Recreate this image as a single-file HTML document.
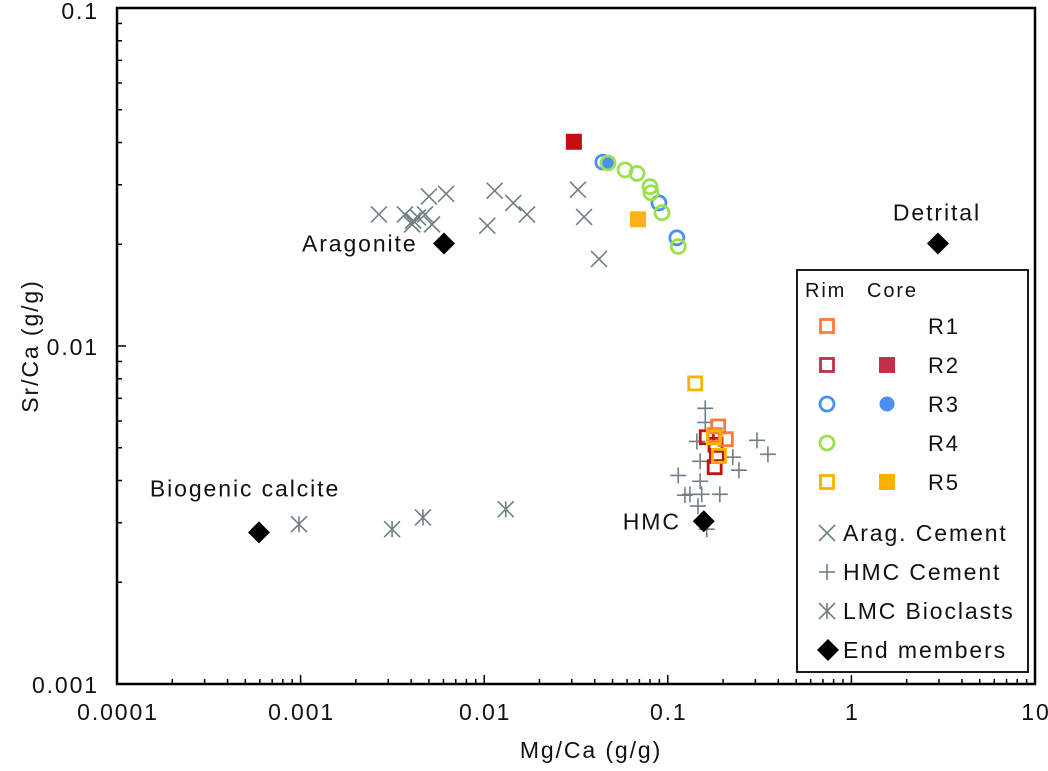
<!DOCTYPE html>
<html><head><meta charset="utf-8">
<style>
html,body{margin:0;padding:0;background:#fff;}
svg{display:block;font-family:"Liberation Sans",Arial,sans-serif;}
text{letter-spacing:1.9px;}
</style></head>
<body>
<svg id="chart" width="1048" height="771" viewBox="0 0 1048 771" xmlns="http://www.w3.org/2000/svg">
<g id="grid"></g>
<g id="marks"></g>
<g id="labels"></g>
</svg>
<script>
// ---- data ----
const xTickValues = [0.0001, 0.001, 0.01, 0.1, 1, 10];
const xTickLabels = ["0.0001", "0.001", "0.01", "0.1", "1", "10"];
const yTickValues = [0.001, 0.01, 0.1];
const yTickLabels = ["0.001", "0.01", "0.1"];

const aragX = [0.00267,0.0037,0.00405,0.00436,0.00476,0.0052,0.0050,0.0062,0.0104,0.0114,0.0144,0.0171,0.0324,0.035,0.0422,0.0041];
const aragY = [0.0245,0.0245,0.0229,0.0240,0.0245,0.0229,0.0277,0.0282,0.0227,0.0288,0.0265,0.0245,0.0290,0.0241,0.0181,0.0235];

const hmcX = [0.160,0.160,0.144,0.306,0.351,0.226,0.244,0.150,0.114,0.150,0.124,0.132,0.153,0.192,0.146,0.163];
const hmcY = [0.00654,0.00594,0.00522,0.00526,0.00478,0.00469,0.00429,0.00456,0.00414,0.00398,0.00362,0.00364,0.00364,0.00364,0.00336,0.00287];

const lmcX = [0.00098,0.00315,0.00464,0.0131];
const lmcY = [0.00297,0.00287,0.00311,0.00329];

const endNames = ["Biogenic calcite","Aragonite","HMC","Detrital"];
const endX = [0.000593,0.00604,0.157,2.96];
const endY = [0.00281,0.0201,0.00303,0.0201];

const r1RimX = [0.188,0.207,0.180];
const r1RimY = [0.00578,0.0053,0.00545];
const r2RimX = [0.163,0.182,0.180,0.185];
const r2RimY = [0.00537,0.0051,0.00438,0.00473];
const r2CoreX = [0.0308];
const r2CoreY = [0.0402];
const r3RimX = [0.0443,0.0895,0.112];
const r3RimY = [0.0350,0.0265,0.0209];
const r3CoreX = [0.0472];
const r3CoreY = [0.0348];
const r4RimX = [0.0472,0.0585,0.068,0.080,0.081,0.093,0.114];
const r4RimY = [0.0348,0.0332,0.0324,0.0296,0.0284,0.0248,0.0197];
const r5RimX = [0.141,0.178,0.190];
const r5RimY = [0.00775,0.00537,0.00473];
const r5CoreX = [0.0688];
const r5CoreY = [0.0237];

// ---- axes ----
const L=117,R=1035,T=8,B=684;
const NS="http://www.w3.org/2000/svg";
function sx(v){return L+(Math.log10(v)+4)/5*(R-L);}
function sy(v){return T+(-1-Math.log10(v))/2*(B-T);}
function el(tag,attrs,parent){const e=document.createElementNS(NS,tag);for(const k in attrs)e.setAttribute(k,attrs[k]);parent.appendChild(e);return e;}
const grid=document.getElementById('grid'),marks=document.getElementById('marks'),labels=document.getElementById('labels');

let fr=el('rect',{x:L,y:T,width:R-L,height:B-T,fill:'none',stroke:'#000','stroke-width':2.5},grid);



for(let d=-4;d<1;d++){for(let m=2;m<10;m++){const x=sx(m*Math.pow(10,d));el('line',{x1:x,x2:x,y1:B,y2:B-5,stroke:'#000','stroke-width':1.5},grid);}}
xTickValues.forEach((v,i)=>{const x=sx(v);el('line',{x1:x,x2:x,y1:B,y2:B-9,stroke:'#000','stroke-width':1.5},grid);
 const t=el('text',{x:x+1,y:B+36,'text-anchor':'middle','font-size':23,fill:'#111'},labels);t.textContent=xTickLabels[i];
 
 });
for(let d=-3;d<-1;d++){for(let m=2;m<10;m++){const y=sy(m*Math.pow(10,d));el('line',{x1:L,x2:L+5,y1:y,y2:y,stroke:'#000','stroke-width':1.5},grid);}}
yTickValues.forEach((v,i)=>{const y=sy(v);el('line',{x1:L,x2:L+9,y1:y,y2:y,stroke:'#000','stroke-width':1.5},grid);
 const t=el('text',{x:L-18,y:Math.max(y+9,19),'text-anchor':'end','font-size':23,fill:'#111'},labels);t.textContent=yTickLabels[i];
 
 });

let xt=el('text',{x:591,y:758,'text-anchor':'middle','font-size':23,fill:'#111'},labels);xt.textContent='Mg/Ca (g/g)';


let yt=el('text',{x:0,y:0,'text-anchor':'middle','font-size':23,fill:'#111',transform:'translate(38,'+((T+B)/2)+') rotate(-90)'},labels);yt.textContent='Sr/Ca (g/g)';



// ---- marker drawers ----
const GREY='#6f7f86';
function cross(x,y,g){el('line',{x1:x-8,y1:y-8,x2:x+8,y2:y+8,stroke:GREY,'stroke-width':1.6},g);el('line',{x1:x-8,y1:y+8,x2:x+8,y2:y-8,stroke:GREY,'stroke-width':1.6},g);}
function plus(x,y,g){el('line',{x1:x-8,y1:y,x2:x+8,y2:y,stroke:GREY,'stroke-width':1.6},g);el('line',{x1:x,y1:y-8,x2:x,y2:y+8,stroke:GREY,'stroke-width':1.6},g);}
function star(x,y,g){cross(x,y,g);el('line',{x1:x,y1:y-8,x2:x,y2:y+8,stroke:GREY,'stroke-width':1.6},g);}
function diamond(x,y,g){el('path',{d:`M${x} ${y-11}L${x+11} ${y}L${x} ${y+11}L${x-11} ${y}Z`,fill:'#000'},g);}
function osq(c){return (x,y,g)=>el('rect',{x:x-6.5,y:y-6.5,width:13,height:13,fill:'none',stroke:c,'stroke-width':2.8},g);}
function fsq(c){return (x,y,g)=>el('rect',{x:x-8,y:y-8,width:16,height:16,fill:c},g);}
function ocirc(c){return (x,y,g)=>el('circle',{cx:x,cy:y,r:7,fill:'none',stroke:c,'stroke-width':2.8},g);}
function fcirc(c){return (x,y,g)=>el('circle',{cx:x,cy:y,r:7.5,fill:c},g);}

function series(name,xs,ys,fn){const g=el('g',{},marks);
 
 
 xs.forEach((v,i)=>fn(sx(v),sy(ys[i]),g));}

series('arag-cement-series',aragX,aragY,cross);
series('hmc-cement-series',hmcX,hmcY,plus);
series('lmc-bioclasts-series',lmcX,lmcY,star);
series('r3-rim-series',r3RimX,r3RimY,ocirc('#4a90f0'));
series('r3-core-series',r3CoreX,r3CoreY,fcirc('#4a90f0'));
series('r4-rim-series',r4RimX,r4RimY,ocirc('#9be04e'));
series('r2-core-series',r2CoreX,r2CoreY,fsq('#c40f0f'));
series('r5-core-series',r5CoreX,r5CoreY,fsq('#ffb21a'));
series('r2-rim-series',r2RimX,r2RimY,osq('#c41212'));
series('r1-rim-series',r1RimX,r1RimY,osq('#ff7a3a'));
series('r5-rim-series',r5RimX,r5RimY,osq('#ffb000'));
series('end-members-series',endX,endY,diamond);

const endLabelDx=[-109,-142,-81,-45];
const endLabelDy=[-36,8,8,-23];
endNames.forEach((n,i)=>{const t=el('text',{x:sx(endX[i])+endLabelDx[i],y:sy(endY[i])+endLabelDy[i],'font-size':23,fill:'#111'},labels);t.textContent=n;
 
 });

// ---- legend ----
const lg=el('g',{},labels);


el('rect',{x:797,y:270,width:231,height:402,fill:'#fff',stroke:'#000','stroke-width':1.8},lg);
function lt(x,y,s,size){const t=el('text',{x:x,y:y,'font-size':size||23,fill:'#111'},lg);t.textContent=s;
 
 return t;}
lt(805,297,'Rim',20);lt(867,297,'Core',20);
const rows=[['R1',osq('#ff7a3a'),null],['R2',osq('#c0304a'),fsq('#c0304a')],['R3',ocirc('#4a90f0'),fcirc('#4a90f0')],['R4',ocirc('#9be04e'),null],['R5',osq('#ffb000'),fsq('#ffb000')]];
rows.forEach((r,i)=>{const y=326+i*39;r[1](827,y,lg);if(r[2])r[2](887,y,lg);lt(928,y+8,r[0],22);});
cross(827,533,lg);lt(843,541,'Arag. Cement');
plus(827,572,lg);lt(843,580,'HMC Cement');
star(827,611,lg);lt(843,619,'LMC Bioclasts');
diamond(828,650,lg);lt(843,658,'End members');
</script>
</body></html>
